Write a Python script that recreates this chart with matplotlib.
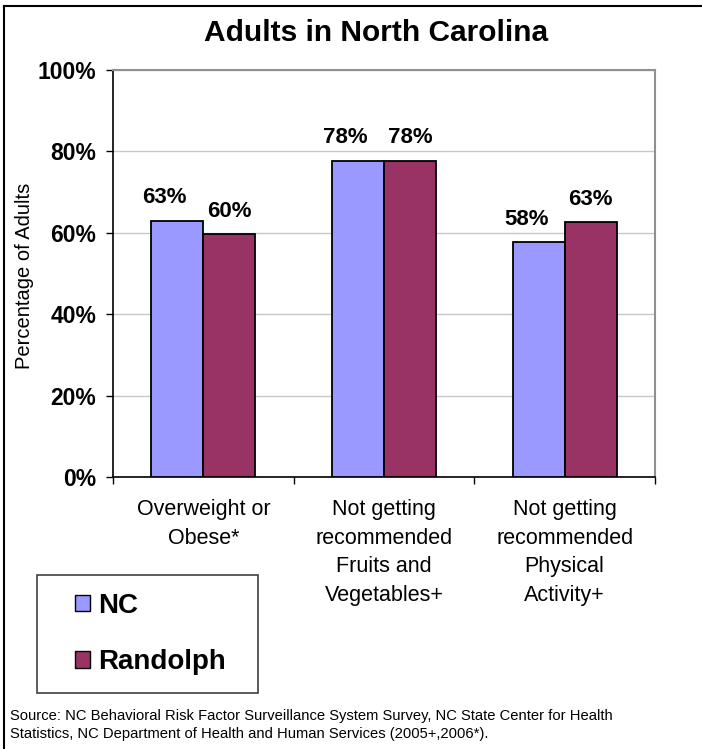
import matplotlib
matplotlib.use("Agg")
import matplotlib.pyplot as plt
from matplotlib.lines import Line2D
from matplotlib.patches import Rectangle
import numpy as np

plt.rcParams['font.family'] = ['Liberation Sans', 'DejaVu Sans']

categories = ["Overweight or\nObese*",
              "Not getting\nrecommended\nFruits and\nVegetables+",
              "Not getting\nrecommended\nPhysical\nActivity+"]
series_names = ["NC", "Randolph"]
nc_values = [63.0, 77.7, 57.7]
randolph_values = [59.7, 77.7, 62.6]
nc_labels = ["63%", "78%", "58%"]
randolph_labels = ["60%", "78%", "63%"]
yticks = [0, 20, 40, 60, 80, 100]
ytick_labels = ["0%", "20%", "40%", "60%", "80%", "100%"]
title = "Adults in North Carolina"
ylabel = "Percentage of Adults"
source = ("Source: NC Behavioral Risk Factor Surveillance System Survey, NC State Center for Health\n"
          "Statistics, NC Department of Health and Human Services (2005+,2006*).")

NC_COLOR = "#9999FF"
RAN_COLOR = "#993366"

W, H = 702, 749
fig = plt.figure(figsize=(W / 100, H / 100), dpi=100)
ax = fig.add_axes([113 / W, 1 - 477 / H, (655 - 113) / W, (477 - 70) / H])

x = np.arange(len(categories))
bw = 0.288
b1 = ax.bar(x - bw / 2, nc_values, bw, color=NC_COLOR, edgecolor="black", linewidth=1.3,
            label=series_names[0], zorder=3)
b2 = ax.bar(x + bw / 2, randolph_values, bw, color=RAN_COLOR, edgecolor="black", linewidth=1.3,
            label=series_names[1], zorder=3)

for rect, lab in zip(b1, nc_labels):
    ax.annotate(lab, (rect.get_x() + rect.get_width() / 2, rect.get_height()),
                xytext=(-9, 9), textcoords="offset points", ha="center", va="bottom",
                fontsize=16, fontweight="bold")
for rect, lab in zip(b2, randolph_labels):
    ax.annotate(lab, (rect.get_x() + rect.get_width() / 2, rect.get_height()),
                xytext=(0, 9), textcoords="offset points", ha="center", va="bottom",
                fontsize=16, fontweight="bold")

ax.set_xlim(-0.5, len(categories) - 0.5)
ax.set_ylim(0, 100)
ax.set_yticks(yticks)
ax.set_yticklabels(ytick_labels, fontsize=16.5, fontweight="bold")
ax.yaxis.grid(True, color="#c8c8c8", linewidth=1, zorder=0)
ax.set_axisbelow(True)

ax.set_xticks(np.arange(len(categories) + 1) - 0.5)
ax.set_xticklabels([])
ax.set_xticks(x, minor=True)
ax.set_xticklabels(categories, minor=True, fontsize=15.5, linespacing=1.47)
ax.tick_params(axis="x", which="minor", length=0, pad=16)
ax.tick_params(axis="x", which="major", length=5, width=1, color="black")
ax.tick_params(axis="y", length=5, width=1, pad=7)

for s in ["left", "bottom"]:
    ax.spines[s].set_color("black")
    ax.spines[s].set_linewidth(1.2)
for s in ["top", "right"]:
    ax.spines[s].set_color("#909090")
    ax.spines[s].set_linewidth(1.5)

fig.text(25 / W, 1 - 276 / H, ylabel, rotation=90, ha="center", va="center", fontsize=14.5)
fig.text(376 / W, 1 - 33 / H, title, ha="center", va="center", fontsize=21.5, fontweight="bold")

# legend box
fig.patches.append(Rectangle((37 / W, 1 - 693 / H), (258 - 37) / W, (693 - 575) / H,
                             transform=fig.transFigure, fill=False, edgecolor="#404040",
                             linewidth=1.2))
leg = fig.legend(handles=[b1, b2], labels=series_names, loc="center left",
                 bbox_to_anchor=(50 / W, 1 - 634 / H), frameon=False,
                 prop={"size": 20, "weight": "bold"}, handlelength=0.55, handleheight=0.55,
                 handletextpad=0.3, labelspacing=1.1)
for h in leg.legend_handles:
    h.set_linewidth(1.0)

fig.text(10 / W, 1 - 725 / H, source, ha="left", va="center", fontsize=10.6, linespacing=1.45)

# outer border (left and top)
fig.lines.append(Line2D([4 / W, 4 / W], [0, 1 - 6 / H], transform=fig.transFigure,
                        color="black", linewidth=1.5))
fig.lines.append(Line2D([4 / W, 1], [1 - 6 / H, 1 - 6 / H], transform=fig.transFigure,
                        color="black", linewidth=1.5))

fig.savefig("out.png", dpi=100)
